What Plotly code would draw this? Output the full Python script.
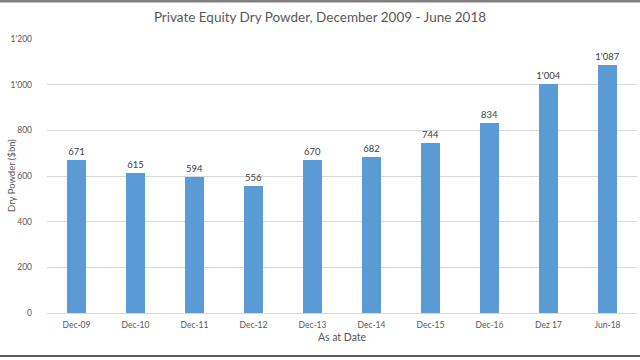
import plotly.graph_objects as go

categories = ["Dec-09", "Dec-10", "Dec-11", "Dec-12", "Dec-13", "Dec-14",
              "Dec-15", "Dec-16", "Dez 17", "Jun-18"]
dry_powder = [671, 615, 594, 556, 670, 682, 744, 834, 1004, 1087]
y_ticks = [0, 200, 400, 600, 800, 1000, 1200]
y_title = "Dry Powder ($bn)"

FONT = "Lato"
GRAY = "#595959"

fig = go.Figure(go.Bar(
    x=categories, y=dry_powder,
    marker=dict(color="#5B9BD5", line=dict(width=0)),
    width=0.31,
    texttemplate="%{y:,}", textposition="outside",
    constraintext="none",
    textfont=dict(family=FONT, size=9.5, color="#404040"),
    cliponaxis=False,
    hoverinfo="skip",
))

fig.update_layout(
    width=640, height=360,
    margin=dict(l=47, r=3, t=39, b=47, autoexpand=False),
    paper_bgcolor="white", plot_bgcolor="white",
    separators=".'",
    showlegend=False,
    title=dict(text="Private Equity Dry Powder, December 2009 - June 2018",
               x=0.5, xanchor="center", y=1 - 17 / 360, yanchor="middle",
               font=dict(family=FONT, size=13.5, color=GRAY)),
    font=dict(family=FONT, color=GRAY),
    bargap=0,
)
fig.update_xaxes(
    title=dict(text="As at Date", font=dict(size=10.5, color=GRAY), standoff=4),
    tickfont=dict(size=8.5, color=GRAY), ticklabelstandoff=4,
    showline=True, linecolor="#D9D9D9", linewidth=1,
    ticks="", showgrid=False, automargin=False,
)
fig.update_yaxes(
    range=[0, 1200], tickvals=y_ticks, tickformat=",",
    tickfont=dict(size=8.5, color=GRAY), ticklabelstandoff=14,
    showgrid=True, gridcolor="#D9D9D9", gridwidth=1,
    zeroline=False, ticks="", ticklen=0, automargin=False,
)
fig.add_annotation(text=y_title, textangle=-90, showarrow=False,
                   xref="paper", yref="paper",
                   x=(11 - 47) / 590, y=0.5, xanchor="center", yanchor="middle",
                   font=dict(family=FONT, size=9.5, color=GRAY))

# frame lines at top and bottom of the picture
h_plot = 313 - 39
fig.add_shape(type="line", xref="paper", yref="paper",
              x0=-47 / 590, x1=(640 - 47) / 590,
              y0=(313 - 1) / h_plot, y1=(313 - 1) / h_plot,
              line=dict(color="#7F7F7F", width=3))
fig.add_shape(type="line", xref="paper", yref="paper",
              x0=-47 / 590, x1=(640 - 47) / 590,
              y0=(313 - 356) / h_plot, y1=(313 - 356) / h_plot,
              line=dict(color="#595959", width=2))

fig.write_html("out.html",
               config={"displayModeBar": False, "staticPlot": True},
               post_script="document.body.style.margin='0';"
                           "document.body.style.overflow='hidden';")
